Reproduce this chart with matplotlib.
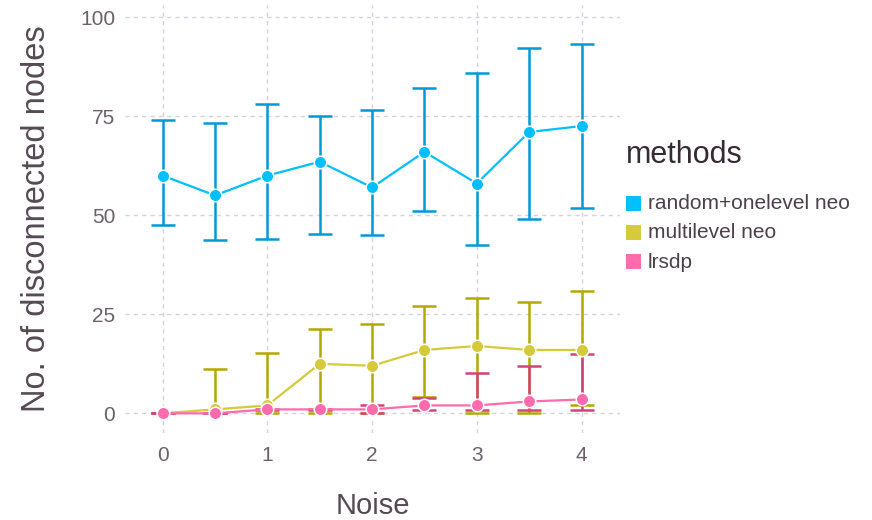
import matplotlib
matplotlib.use("Agg")
import matplotlib.pyplot as plt
from matplotlib.patches import Rectangle

plt.rcParams["font.family"] = ["Liberation Sans", "DejaVu Sans"]

# noise levels on the x axis
noise = [0, 0.5, 1, 1.5, 2, 2.5, 3, 3.5, 4]

# random+onelevel neo: mean, lower and upper bound
rand_mean = [60, 55, 60, 63.5, 57, 66, 58, 71, 72.5]
rand_lo = [47.5, 43.7, 44, 45.2, 45, 51, 42.5, 49, 51.7]
rand_hi = [74, 73.2, 78, 75, 76.5, 82, 86, 92.3, 93.2]

# multilevel neo
multi_mean = [0, 1, 2, 12.5, 12, 16, 17, 16, 16]
multi_lo = [0, 0, 0, 0, 0, 4, 0, 0, 2]
multi_hi = [0, 11.2, 15.2, 21.2, 22.5, 27, 29, 28, 31]

# lrsdp
lrsdp_mean = [0, 0, 1, 1, 1, 2, 2, 3, 3.5]
lrsdp_lo = [0, 0, 0.8, 0.8, 0, 0.8, 0.8, 0.8, 0.8]
lrsdp_hi = [0, 0, 1, 1, 2, 3.9, 10.2, 12, 15]

methods = ["random+onelevel neo", "multilevel neo", "lrsdp"]
point_colors = ["#00bfff", "#d4ca3a", "#ff6bac"]
bar_colors = ["#0099d6", "#b2a900", "#d2437c"]

series = [
    (rand_mean, rand_lo, rand_hi),
    (multi_mean, multi_lo, multi_hi),
    (lrsdp_mean, lrsdp_lo, lrsdp_hi),
]

W, H = 872, 520
fig = plt.figure(figsize=(W / 100, H / 100), dpi=100)
ax = fig.add_axes([0.1433, 0.167, 0.568, 0.823])

# error bars underneath everything
for (m, lo, hi), bc in zip(series, bar_colors):
    yerr = [[mm - l for mm, l in zip(m, lo)], [h - mm for mm, h in zip(m, hi)]]
    ax.errorbar(noise, m, yerr=yerr, fmt="none", ecolor=bc, elinewidth=1.8,
                capsize=8.5, capthick=1.8, zorder=2)

# lines with points on top
for (m, lo, hi), pc in zip(series, point_colors):
    ax.plot(noise, m, color=pc, lw=1.6, marker="o", markersize=9,
            markerfacecolor=pc, markeredgecolor="white", markeredgewidth=1.1,
            zorder=3)

ax.set_xlim(-0.36, 4.37)
ax.set_ylim(-5, 103)
ax.set_xticks([0, 1, 2, 3, 4])
ax.set_yticks([0, 25, 50, 75, 100])

ax.grid(True, color="#d3d3e0", linestyle=(0, (3, 3)), linewidth=1)
ax.set_axisbelow(True)
for s in ax.spines.values():
    s.set_visible(False)
ax.tick_params(length=0, labelsize=15, labelcolor="#6c606b", pad=7)
ax.tick_params(axis="x", pad=9)

ax.set_xlabel("Noise", fontsize=21, color="#564a55", labelpad=20)
ax.set_ylabel("No. of disconnected nodes", fontsize=23.5, color="#564a55", labelpad=20)

# legend built by hand: title, colour squares and labels (pixel positions)
def fx(px):
    return px / W

def fy(py):
    return 1 - py / H

fig.text(fx(626), fy(155), "methods", fontsize=22, color="#362a35", va="center", ha="left")
for i, (name, c) in enumerate(zip(methods, point_colors)):
    yc = 204 + 29 * i
    fig.add_artist(Rectangle((fx(626), fy(yc + 7)), 15 / W, 15 / H,
                             transform=fig.transFigure, facecolor=c, edgecolor="none"))
    fig.text(fx(648), fy(yc), name, fontsize=15, color="#4c404b", va="center", ha="left")

fig.savefig("out.png", dpi=100)
